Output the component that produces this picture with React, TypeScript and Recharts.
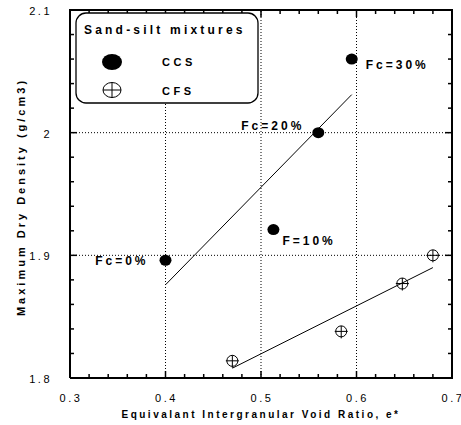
import React from 'react';
import {
  ComposedChart, Scatter, XAxis, YAxis, ReferenceLine, Legend
} from 'recharts';

// --- data ---
const ccsE = [0.40, 0.513, 0.56, 0.595];
const ccsDensity = [1.896, 1.921, 2.0, 2.06];
const ccsTags = ['Fc=0%', 'F=10%', 'Fc=20%', 'Fc=30%'];

const cfsE = [0.47, 0.584, 0.648, 0.68];
const cfsDensity = [1.814, 1.838, 1.877, 1.90];

const ccsFitE = [0.40, 0.595];
const ccsFitDensity = [1.876, 2.031];
const cfsFitE = [0.47, 0.68];
const cfsFitDensity = [1.808, 1.890];

const xLabels = [0.3, 0.4, 0.5, 0.6, 0.7];
const yLabels = [1.8, 1.9, 2.0, 2.1];
const xTicks = [0.3, 0.32, 0.34, 0.36, 0.38, 0.4, 0.42, 0.44, 0.46, 0.48, 0.5,
  0.52, 0.54, 0.56, 0.58, 0.6, 0.62, 0.64, 0.66, 0.68, 0.7];
const yTicks = [1.8, 1.82, 1.84, 1.86, 1.88, 1.9, 1.92, 1.94, 1.96, 1.98, 2.0,
  2.02, 2.04, 2.06, 2.08, 2.1];
const gridX = [0.4, 0.5, 0.6];
const gridY = [1.9, 2.0];

const X_MIN = 0.3, X_MAX = 0.7, Y_MIN = 1.8, Y_MAX = 2.1;

// label offsets from each CCS point (px)
const tagPos = [
  { dx: -17, dy: 5, anchor: 'end' },
  { dx: 9, dy: 15, anchor: 'start' },
  { dx: -14, dy: -3, anchor: 'end' },
  { dx: 14, dy: 10, anchor: 'start' },
];

const ccsData = ccsE.map((e, i) => ({ e, d: ccsDensity[i], tag: ccsTags[i], i }));
const cfsData = cfsE.map((e, i) => ({ e, d: cfsDensity[i] }));
const ccsFit = ccsFitE.map((e, i) => ({ e, d: ccsFitDensity[i] }));
const cfsFit = cfsFitE.map((e, i) => ({ e, d: cfsFitDensity[i] }));

// box around the plot and the inward tick marks, placed through the chart scales
const frame = [
  { e: X_MIN, d: Y_MIN }, { e: X_MAX, d: Y_MIN }, { e: X_MAX, d: Y_MAX },
  { e: X_MIN, d: Y_MAX }, { e: X_MIN, d: Y_MIN },
];
const tickMarks = [
  ...xTicks.map((v) => ({ e: v, d: Y_MIN, side: 'bottom', v })),
  ...xTicks.map((v) => ({ e: v, d: Y_MAX, side: 'top', v })),
  ...yTicks.map((v) => ({ e: X_MIN, d: v, side: 'left', v })),
  ...yTicks.map((v) => ({ e: X_MAX, d: v, side: 'right', v })),
];

const FONT = '"Liberation Sans", Arial, sans-serif';

const isMajor = (v: number) => Math.abs(v * 10 - Math.round(v * 10)) < 1e-6;
const fmt = (v: number) => String(Math.round(v * 10) / 10);

const XTick = ({ x, y, payload }: any) => (
  <text x={x + 1} y={y + 24} textAnchor="middle" fontSize={11} letterSpacing={2.5}
    fontFamily={FONT} fill="#000">{fmt(payload.value)}</text>
);

const YTick = ({ x, y, payload }: any) => (
  <text x={x - 18} y={y + 5} textAnchor="end" fontSize={11} letterSpacing={2.5}
    fontFamily={FONT} fill="#000">{fmt(payload.value)}</text>
);

const TickMark = ({ cx, cy, payload }: any) => {
  const len = isMajor(payload.v) ? 7 : 4;
  const s = payload.side;
  const x2 = s === 'left' ? cx + len : s === 'right' ? cx - len : cx;
  const y2 = s === 'bottom' ? cy - len : s === 'top' ? cy + len : cy;
  return <line x1={cx} y1={cy} x2={x2} y2={y2} stroke="#000" strokeWidth={1.5} />;
};

const CcsDot = (props: any) => {
  const { cx, cy, payload } = props;
  const p = tagPos[payload.i];
  return (
    <g>
      <ellipse cx={cx} cy={cy} rx={6} ry={5.5} fill="#000" />
      <text x={cx + p.dx} y={cy + p.dy} textAnchor={p.anchor} fontSize={12} fontWeight="bold"
        letterSpacing={3} fontFamily={FONT} fill="#000">{payload.tag}</text>
    </g>
  );
};

const CfsDot = ({ cx, cy }: any) => (
  <g stroke="#000" strokeWidth={1} fill="none">
    <circle cx={cx} cy={cy} r={5.5} />
    <line x1={cx - 6.5} y1={cy} x2={cx + 6.5} y2={cy} />
    <line x1={cx} y1={cy - 5.5} x2={cx} y2={cy + 7} />
  </g>
);

const NoDot = () => <g />;

const LegendBox = () => (
  <svg width={184} height={92} style={{ display: 'block' }}>
    <rect x={1} y={1} width={182} height={90} rx={10} ry={10} fill="#fff" stroke="#000" strokeWidth={1.3} />
    <text x={9} y={22} fontSize={12} fontWeight="bold" letterSpacing={3.2} fontFamily={FONT}>
      Sand-silt mixtures
    </text>
    <ellipse cx={37} cy={50} rx={10} ry={8} fill="#000" />
    <text x={87} y={54} fontSize={11} fontWeight="bold" letterSpacing={3.5} fontFamily={FONT}>CCS</text>
    <g stroke="#000" strokeWidth={1} fill="none">
      <ellipse cx={37} cy={78} rx={9} ry={7.5} />
      <line x1={28} y1={78} x2={46} y2={78} />
      <line x1={37} y1={70.5} x2={37} y2={86} />
    </g>
    <text x={87} y={83} fontSize={11} fontWeight="bold" letterSpacing={3.5} fontFamily={FONT}>CFS</text>
  </svg>
);

const XTitle = ({ viewBox }: any) => (
  <text x={viewBox.x + viewBox.width / 2} y={418} textAnchor="middle" fontSize={10}
    fontWeight="bold" letterSpacing={2.5} fontFamily={FONT} fill="#000">
    Equivalant Intergranular Void Ratio, e*
  </text>
);

const YTitle = ({ viewBox }: any) => (
  <text x={0} y={0} transform={`translate(25,${viewBox.y + viewBox.height / 2 + 3}) rotate(-90)`}
    textAnchor="middle" fontSize={11} fontWeight="bold" letterSpacing={3} fontFamily={FONT} fill="#000">
    Maximum Dry Density (g/cm3)
  </text>
);

export default function App() {
  return (
    <div style={{ position: 'absolute', left: 0, top: 0, width: 461, height: 425, background: '#fff' }}>
      <ComposedChart width={461} height={425} margin={{ top: 10, right: 9, bottom: 0, left: 0 }}>
        <XAxis dataKey="e" type="number" domain={[X_MIN, X_MAX]} ticks={xLabels}
          height={47} tickSize={0} tickMargin={0} interval={0}
          axisLine={{ stroke: '#000', strokeWidth: 2 }} tickLine={false}
          tick={<XTick />} label={{ content: <XTitle /> }} />
        <YAxis dataKey="d" type="number" domain={[Y_MIN, Y_MAX]} ticks={yLabels}
          width={70} tickSize={0} tickMargin={0} interval={0}
          axisLine={{ stroke: '#000', strokeWidth: 2 }} tickLine={false}
          tick={<YTick />} label={{ content: <YTitle /> }} />

        {gridX.map((v) => (
          <ReferenceLine key={`gx${v}`} x={v} stroke="#000" strokeWidth={1} strokeDasharray="1 2" />
        ))}
        {gridY.map((v) => (
          <ReferenceLine key={`gy${v}`} y={v} stroke="#000" strokeWidth={1} strokeDasharray="1 2" />
        ))}

        <Scatter data={frame} line={{ stroke: '#000', strokeWidth: 2 }} shape={<NoDot />}
          isAnimationActive={false} legendType="none" />
        <Scatter data={tickMarks} shape={<TickMark />} isAnimationActive={false} legendType="none" />

        <Scatter data={ccsFit} line={{ stroke: '#000', strokeWidth: 1 }} shape={<NoDot />}
          isAnimationActive={false} legendType="none" />
        <Scatter data={cfsFit} line={{ stroke: '#000', strokeWidth: 1 }} shape={<NoDot />}
          isAnimationActive={false} legendType="none" />
        <Scatter name="CCS" data={ccsData} shape={<CcsDot />} isAnimationActive={false} />
        <Scatter name="CFS" data={cfsData} shape={<CfsDot />} isAnimationActive={false} />

        <Legend layout="horizontal" verticalAlign="middle" align="center" content={<LegendBox />}
          wrapperStyle={{ position: 'absolute', left: 75, top: 12, width: 184, height: 92 }} />
      </ComposedChart>
    </div>
  );
}
